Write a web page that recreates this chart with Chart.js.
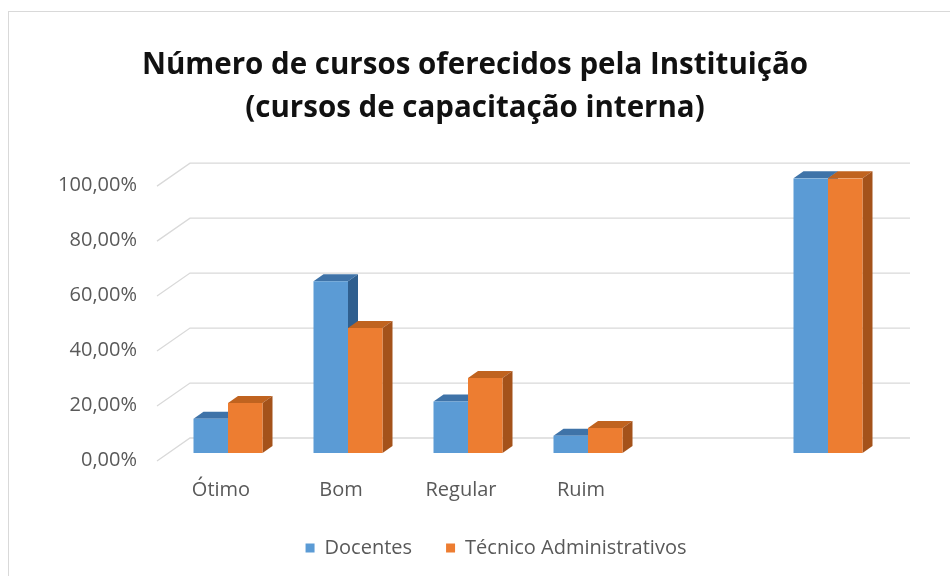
<!DOCTYPE html>
<html><head><meta charset="utf-8">
<script src="https://cdn.jsdelivr.net/npm/chart.js@4/dist/chart.umd.min.js"></script>
<style>
html,body{margin:0;padding:0;background:#fff;overflow:hidden}
#wrap{position:relative;width:950px;height:576px}
#frame{position:absolute;left:8px;top:11px;width:960px;height:600px;border:1px solid #d9d9d9;box-sizing:border-box;pointer-events:none}
canvas{position:absolute;left:0;top:0}
</style></head><body>
<div id="wrap"><canvas id="c" width="950" height="576"></canvas><div id="frame"></div></div>
<script>
const categories = ['Ótimo', 'Bom', 'Regular', 'Ruim', '', ''];
const docentes = [12.5, 62.5, 18.75, 6.25, null, 100];
const tecnicos = [18.18, 45.45, 27.27, 9.09, null, 100];
const yTicks = [0, 20, 40, 60, 80, 100];
const seriesNames = ['Docentes', 'Técnico Administrativos'];
const titleLines = ['Número de cursos oferecidos pela Instituição', '(cursos de capacitação interna)'];

const frontColors = ['#5B9BD5', '#ED7D31'];
const topColors = ['#3F73A8', '#C0631F'];
const sideColors = ['#2F5F8F', '#A4521A'];
const DX = 10, DY = -7;

const fmt = v => v.toFixed(2).replace('.', ',') + '%';

const depthPlugin = {
  id: 'depth3d',
  beforeDatasetsDraw(chart) {
    const ctx = chart.ctx;
    const ys = chart.scales.y;
    const area = chart.chartArea;
    ctx.save();
    ctx.strokeStyle = '#d9d9d9';
    ctx.lineWidth = 1.3;
    yTicks.forEach(v => {
      const yp = ys.getPixelForValue(v);
      ctx.beginPath();
      ctx.moveTo(area.left - 11, yp + 8);
      ctx.lineTo(area.left + 22, yp - 15);
      ctx.lineTo(area.right + 22, yp - 15);
      ctx.stroke();
    });
    chart.data.datasets.forEach((ds, di) => {
      const meta = chart.getDatasetMeta(di);
      meta.data.forEach((el, i) => {
        if (ds.data[i] === null || ds.data[i] === undefined) return;
        const p = el.getProps(['x', 'y', 'base', 'width'], true);
        const l = p.x - p.width / 2, r = p.x + p.width / 2;
        ctx.fillStyle = topColors[di];
        ctx.beginPath();
        ctx.moveTo(l, p.y);
        ctx.lineTo(l + DX, p.y + DY);
        ctx.lineTo(r + DX, p.y + DY);
        ctx.lineTo(r, p.y);
        ctx.closePath();
        ctx.fill();
        ctx.fillStyle = sideColors[di];
        ctx.beginPath();
        ctx.moveTo(r, p.y);
        ctx.lineTo(r + DX, p.y + DY);
        ctx.lineTo(r + DX, p.base + DY);
        ctx.lineTo(r, p.base);
        ctx.closePath();
        ctx.fill();
      });
    });
    ctx.restore();
  }
};

const shiftPlugin = {
  id: 'legendShift',
  afterLayout(chart) {
    const lg = chart.legend;
    if (!lg) return;
    lg.left += 21; lg.right += 21;
    lg.top += 1; lg.bottom += 1;
  }
};

new Chart(document.getElementById('c'), {
  type: 'bar',
  data: {
    labels: categories,
    datasets: [
      { label: seriesNames[0], data: docentes, backgroundColor: frontColors[0], borderWidth: 0 },
      { label: seriesNames[1], data: tecnicos, backgroundColor: frontColors[1], borderWidth: 0 }
    ]
  },
  options: {
    responsive: false,
    animation: false,
    events: [],
    layout: { padding: { left: 0, right: 0, top: 0, bottom: 9 } },
    datasets: { bar: { barPercentage: 1.0, categoryPercentage: 0.575 } },
    scales: {
      x: {
        grid: { display: false, drawTicks: false },
        border: { display: false },
        afterFit: s => { s.height = 50; },
        ticks: {
          color: '#595959', font: { family: 'Open Sans', size: 20 },
          padding: 25, labelOffset: -7, maxRotation: 0, autoSkip: false
        }
      },
      y: {
        min: 0, max: 100,
        afterFit: s => { s.width = 168; },
        grid: { display: false, drawTicks: false },
        border: { display: false },
        afterBuildTicks: s => { s.ticks = yTicks.map(v => ({ value: v })); },
        ticks: {
          color: '#595959', font: { family: 'Open Sans', size: 20 },
          padding: 31, labelOffset: 7,
          callback: v => fmt(v)
        }
      },
      yR: {
        type: 'linear', position: 'right', min: 0, max: 1, display: true,
        afterFit: s => { s.width = 62; },
        grid: { display: false, drawTicks: false },
        border: { display: false },
        ticks: { display: false }
      }
    },
    plugins: {
      tooltip: { enabled: false },
      title: {
        display: true,
        text: titleLines,
        color: '#111111',
        font: { family: 'Open Sans', size: 29.5, weight: 'bold', lineHeight: 1.46 },
        padding: { top: 44, bottom: 48 }
      },
      legend: {
        position: 'bottom',
        labels: {
          color: '#595959', font: { family: 'Open Sans', size: 20 },
          boxWidth: 9, boxHeight: 9, padding: 34
        }
      }
    }
  },
  plugins: [depthPlugin, shiftPlugin]
});
</script>
</body></html>
